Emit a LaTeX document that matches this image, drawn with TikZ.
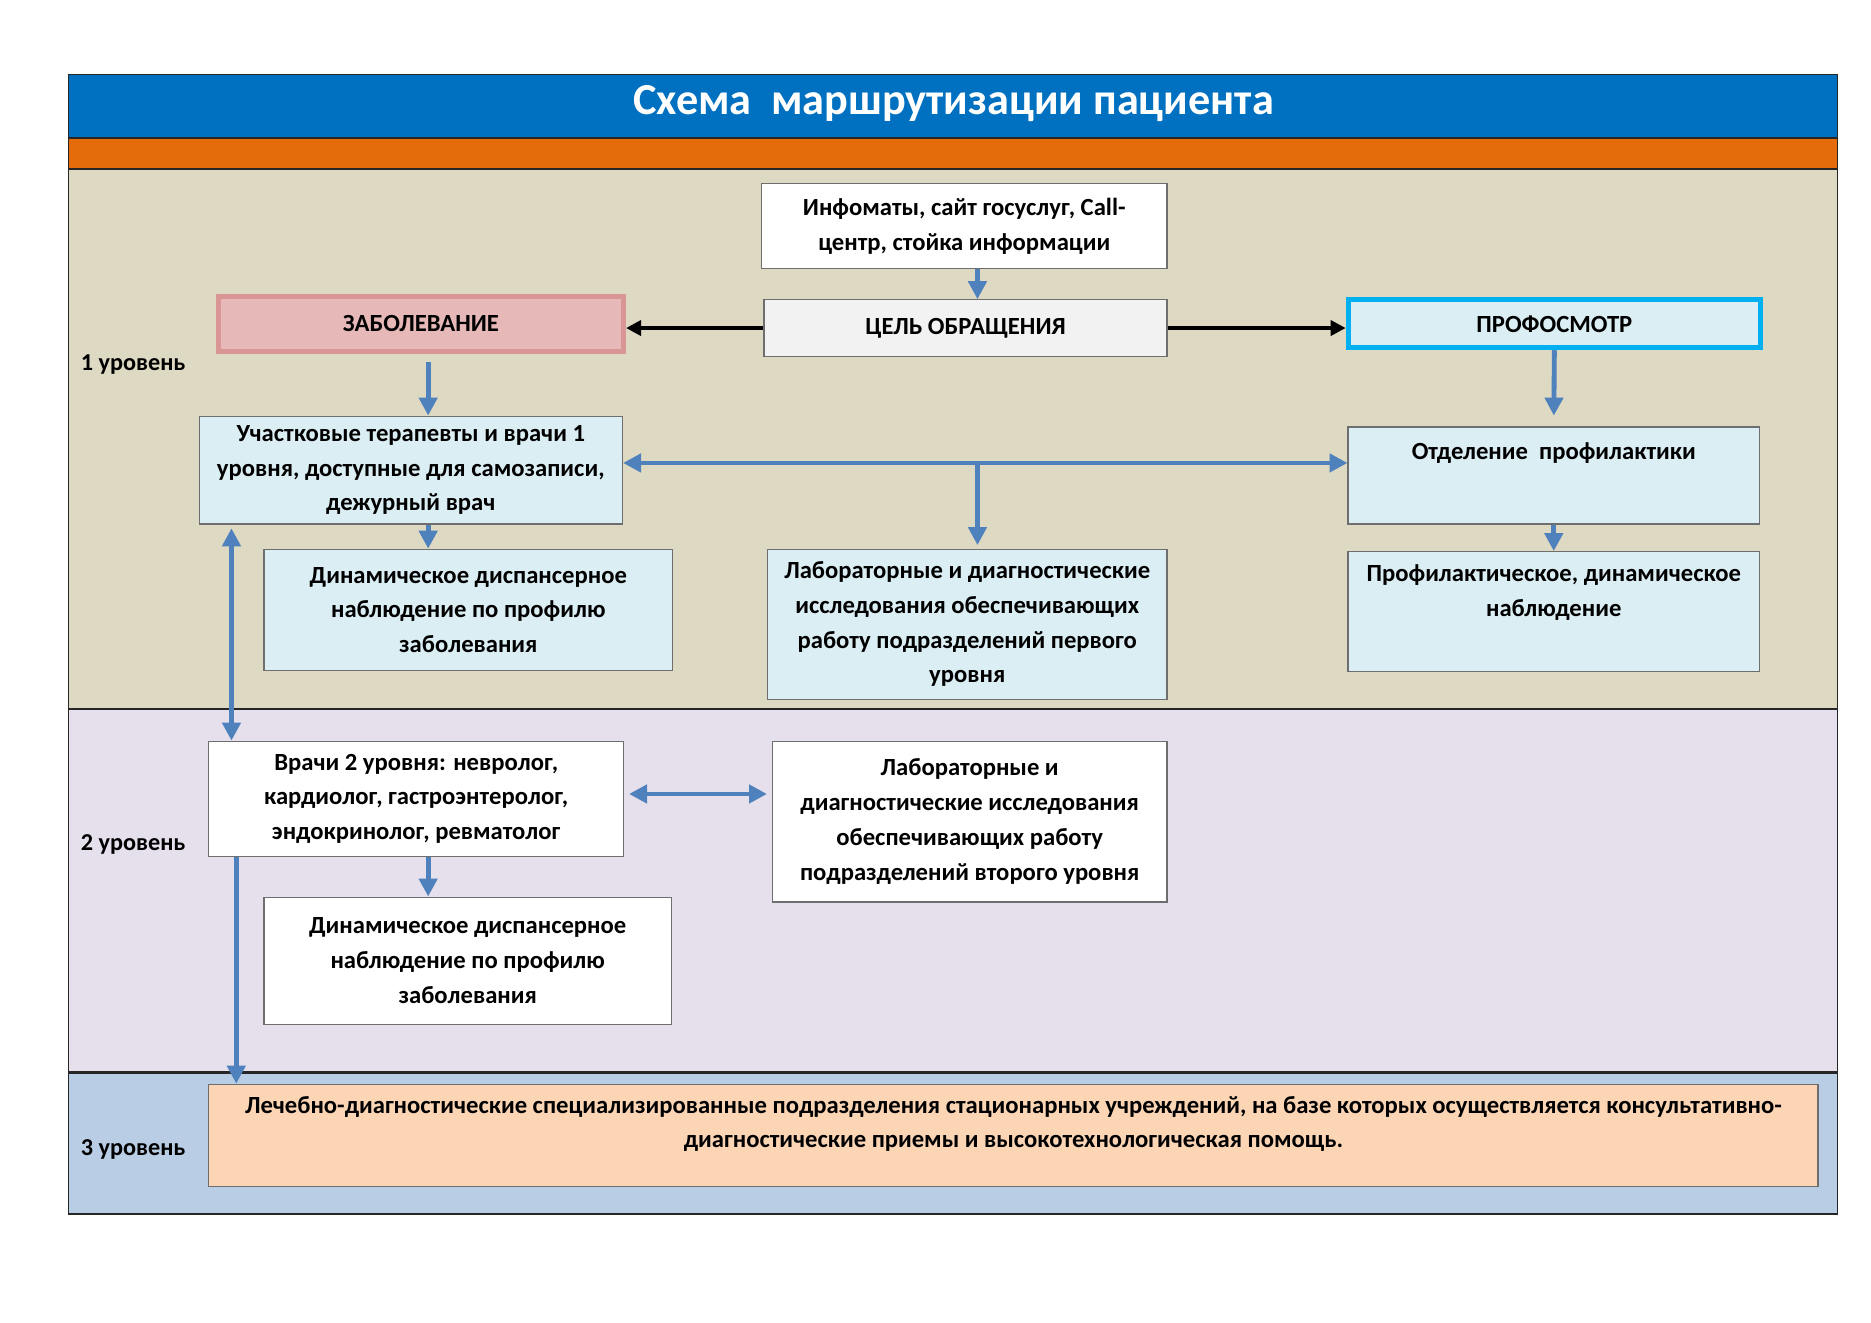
\documentclass[tikz,border=0pt]{standalone}
\usepackage{fontspec}
\setmainfont{Carlito}
\usepackage{tikz}
\usetikzlibrary{arrows.meta}
\definecolor{title_blue}{RGB}{0,112,192}
\definecolor{band_orange}{RGB}{228,108,10}
\definecolor{level_tan}{RGB}{221,217,195}
\definecolor{level_lilac}{RGB}{229,224,236}
\definecolor{level_steel}{RGB}{185,205,229}
\definecolor{box_blue}{RGB}{219,238,244}
\definecolor{box_gray}{RGB}{242,242,242}
\definecolor{box_pink}{RGB}{230,185,184}
\definecolor{edge_pink}{RGB}{217,150,148}
\definecolor{edge_cyan}{RGB}{0,176,240}
\definecolor{box_peach}{RGB}{252,213,181}
\definecolor{arrow_blue}{RGB}{79,129,189}
\definecolor{edge_gray}{RGB}{110,110,110}

\begin{document}
\begin{tikzpicture}[x=0.02cm,y=-0.02cm,>={Triangle[length=0.3cm,width=0.3cm]}]
    \tikzstyle{box}=[draw=edge_gray, line width=0.6pt, rectangle, align=center, inner sep=0pt,
                     font=\fontsize{11.7}{16.5}\selectfont\bfseries, text=black]
    \tikzstyle{lvl}=[font=\fontsize{11.5}{14}\selectfont\bfseries, text=black]
    \tikzstyle{blue_arrow}=[->, draw=arrow_blue, line width=2.3pt]
    \tikzstyle{black_arrow}=[->, draw=black, line width=1.7pt, >={Triangle[length=0.25cm,width=0.25cm]}]

    \useasboundingbox (0,0) rectangle (1560,1103);

    % bands
    \fill[title_blue]  (57,62)   rectangle (1532,115);
    \fill[band_orange] (57,115)  rectangle (1532,141);
    \fill[level_tan]   (57,141)  rectangle (1532,591);
    \fill[level_lilac] (57,591)  rectangle (1532,894);
    \fill[level_steel] (57,894)  rectangle (1532,1012);
    \draw[line width=1pt, black!85] (57,115) -- (1532,115);
    \draw[line width=1pt, black!85] (57,141) -- (1532,141);
    \draw[line width=1.2pt, black!85] (57,591) -- (1532,591);
    \draw[line width=1.2pt, black!85] (57,894) -- (1532,894);
    \draw[line width=0.8pt, black!85] (57,62) rectangle (1532,1012);

    \node[font=\fontsize{21}{24}\selectfont\bfseries, text=white] (title) at (795,86) {Схема\ \ маршрутизации пациента};

    \node[lvl] (lvl1) at (111,304) {1 уровень};
    \node[lvl] (lvl2) at (111,704) {2 уровень};
    \node[lvl] (lvl3) at (111,958) {3 уровень};

    % level 1
    \node[box, fill=white, minimum width=6.76cm, minimum height=1.42cm] (info) at (804,188.5)
        {Инфоматы, сайт госуслуг, Call-\\центр, стойка информации};
    \node[box, fill=box_gray, minimum width=6.72cm, minimum height=0.94cm] (goal) at (805,273.5) {ЦЕЛЬ ОБРАЩЕНИЯ};
    \node[box, fill=box_pink, draw=edge_pink, line width=2.3pt, minimum width=6.76cm, minimum height=0.92cm] (ill) at (351,270) {ЗАБОЛЕВАНИЕ};
    \node[box, fill=box_blue, draw=edge_cyan, line width=2.3pt, minimum width=6.88cm, minimum height=0.8cm] (prof) at (1296,270) {ПРОФОСМОТР};
    \node[box, fill=box_blue, minimum width=7.06cm, minimum height=1.8cm] (uch) at (342.5,392)
        {Участковые терапевты и врачи 1\\уровня, доступные для самозаписи,\\дежурный врач};
    \node[box, fill=box_blue, minimum width=6.82cm, minimum height=2.02cm] (dyn1) at (390.5,508.5)
        {Динамическое диспансерное\\наблюдение по профилю\\заболевания};
    \node[box, fill=box_blue, minimum width=6.66cm, minimum height=2.5cm] (lab1) at (806.5,520.5)
        {Лабораторные и диагностические\\исследования обеспечивающих\\работу подразделений первого\\уровня};
    \node[box, fill=box_blue, minimum width=6.86cm, minimum height=1.62cm,
          label={[box, draw=none, anchor=north, yshift=-0.26cm]north:Отделение\ \ профилактики}] (otd) at (1295.5,396.5) {};
    \node[box, fill=box_blue, minimum width=6.86cm, minimum height=2.0cm,
          label={[box, draw=none, anchor=north, yshift=-0.22cm]north:Профилактическое, динамическое\\наблюдение}] (prf) at (1295.5,510) {};

    % level 2
    \node[box, fill=white, minimum width=6.92cm, minimum height=1.92cm] (doc2) at (347,666)
        {Врачи 2 уровня: невролог,\\кардиолог, гастроэнтеролог,\\эндокринолог, ревматолог};
    \node[box, fill=white, minimum width=6.58cm, minimum height=2.68cm] (lab2) at (808.5,685)
        {Лабораторные и\\диагностические исследования\\обеспечивающих работу\\подразделений второго уровня};
    \node[box, fill=white, minimum width=6.8cm, minimum height=2.12cm] (dyn2) at (390,801)
        {Динамическое диспансерное\\наблюдение по профилю\\заболевания};

    % level 3
    \node[box, fill=box_peach, minimum width=26.84cm, minimum height=1.7cm, text depth=0.44cm] (hosp) at (845,946.5)
        {Лечебно-диагностические специализированные подразделения стационарных учреждений, на базе которых осуществляется консультативно-\\диагностические приемы и высокотехнологическая помощь.};

    \coordinate (mid)  at (815,386);
    \coordinate (col1) at (357,0);
    \coordinate (col2) at (193,0);
    \coordinate (col3) at (197,0);

    \path
     (info.south -| mid) edge[blue_arrow] (goal.north -| mid)
     (goal.west) edge[black_arrow] (goal.west -| ill.east)
     (goal.east) edge[black_arrow] (goal.east -| prof.west)
     (ill.south -| col1) edge[blue_arrow, shorten <=0.14cm] (uch.north -| col1)
     (prof.south) edge[blue_arrow, shorten >=0.18cm] (otd.north)
     (uch.east |- mid) edge[blue_arrow, <->] (otd.west |- mid)
     (mid) edge[blue_arrow, shorten >=0.06cm] (lab1.north -| mid)
     (uch.south -| col1) edge[blue_arrow] (dyn1.north -| col1)
     (otd.south) edge[blue_arrow] (prf.north)
     (uch.south -| col2) edge[blue_arrow, <->, shorten <=0.06cm] (doc2.north -| col2)
     ([yshift=0.08cm]doc2.east) edge[blue_arrow, <->, shorten <=0.08cm, shorten >=0.08cm] ([yshift=0.08cm]doc2.east -| lab2.west)
     (doc2.south -| col1) edge[blue_arrow] (dyn2.north -| col1)
     (doc2.south -| col3) edge[blue_arrow] (hosp.north -| col3)
     ;
\end{tikzpicture}
\end{document}
